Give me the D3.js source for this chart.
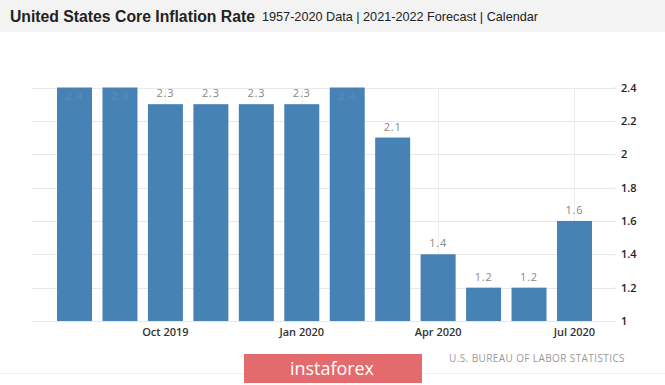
<!DOCTYPE html>
<html>
<head>
<meta charset="utf-8">
<script src="https://cdn.jsdelivr.net/npm/d3@7"></script>
<style>
  html, body { margin: 0; padding: 0; background: #fff; }
  svg { display: block; }
</style>
</head>
<body>
<div id="chart"></div>
<script>
(function () {
  'use strict';

  /* ── Data ── */
  var months = ['Aug 2019', 'Sep 2019', 'Oct 2019', 'Nov 2019', 'Dec 2019', 'Jan 2020',
                'Feb 2020', 'Mar 2020', 'Apr 2020', 'May 2020', 'Jun 2020', 'Jul 2020'];
  var values = [2.4, 2.4, 2.3, 2.3, 2.3, 2.3, 2.4, 2.1, 1.4, 1.2, 1.2, 1.6];
  var xTicks = ['Oct 2019', 'Jan 2020', 'Apr 2020', 'Jul 2020'];
  var yTicks = [1, 1.2, 1.4, 1.6, 1.8, 2, 2.2, 2.4];

  var W = 665, H = 385;
  var left = 32, right = 612, top = 87.5, bottom = 321;

  var svg = d3.select('#chart').append('svg')
    .attr('width', W).attr('height', H);

  /* ── Header band ── */
  svg.append('rect')
    .attr('x', 0).attr('y', 0).attr('width', W).attr('height', 32)
    .attr('fill', '#f3f3f3');

  svg.append('text')
    .attr('x', 10).attr('y', 22)
    .attr('font-family', 'Liberation Sans, Arial, sans-serif')
    .attr('font-weight', 'bold')
    .attr('font-size', 16)
    .attr('fill', '#222')
    .attr('textLength', 245)
    .attr('lengthAdjust', 'spacingAndGlyphs')
    .text('United States Core Inflation Rate');

  svg.append('text')
    .attr('x', 262).attr('y', 21)
    .attr('font-family', 'Liberation Sans, Arial, sans-serif')
    .attr('font-size', 13)
    .attr('fill', '#222')
    .attr('textLength', 276)
    .attr('lengthAdjust', 'spacingAndGlyphs')
    .text('1957-2020 Data | 2021-2022 Forecast | Calendar');

  /* ── Scales ── */
  var x = d3.scaleBand()
    .domain(months)
    .range([51.8, 597.2])
    .paddingInner(0.23)
    .paddingOuter(0.115);

  var y = d3.scaleLinear()
    .domain([1, 2.4])
    .range([bottom, top]);

  /* ── Grid ── */
  var grid = svg.append('g');
  grid.selectAll('line.h')
    .data(yTicks)
    .join('line')
    .attr('class', 'h')
    .attr('x1', left).attr('x2', right + 3)
    .attr('y1', function (d) { return Math.round(y(d)) + 0.5; })
    .attr('y2', function (d) { return Math.round(y(d)) + 0.5; })
    .attr('stroke', '#e8e8e8');

  grid.selectAll('line.v')
    .data(xTicks)
    .join('line')
    .attr('class', 'v')
    .attr('x1', function (d) { return Math.round(x(d) + x.bandwidth() / 2) + 0.5; })
    .attr('x2', function (d) { return Math.round(x(d) + x.bandwidth() / 2) + 0.5; })
    .attr('y1', top).attr('y2', bottom)
    .attr('stroke', '#eeeeee');

  /* ── Bars ── */
  svg.append('g')
    .selectAll('rect')
    .data(values)
    .join('rect')
    .attr('x', function (d, i) { return x(months[i]); })
    .attr('width', x.bandwidth())
    .attr('y', function (d) { return y(d); })
    .attr('height', function (d) { return bottom - y(d); })
    .attr('fill', '#4682b4');

  /* ── Value labels ── */
  svg.append('g')
    .selectAll('text')
    .data(values)
    .join('text')
    .attr('x', function (d, i) { return x(months[i]) + x.bandwidth() / 2; })
    .attr('y', function (d) { return d >= 2.4 ? y(d) + 12 : y(d) - 7; })
    .attr('text-anchor', 'middle')
    .attr('font-family', 'Open Sans, sans-serif')
    .attr('font-size', 11)
    .attr('letter-spacing', 0.8)
    .attr('fill', function (d) { return d >= 2.4 ? '#6389b3' : '#888'; })
    .text(function (d) { return d.toFixed(1); });

  /* ── X axis (labels only) ── */
  var xAxis = d3.axisBottom(x).tickValues(xTicks).tickSize(0).tickPadding(7);
  var gx = svg.append('g')
    .attr('transform', 'translate(0,' + bottom + ')')
    .call(xAxis);
  gx.select('.domain').remove();
  gx.selectAll('text')
    .attr('font-family', 'Open Sans, sans-serif')
    .attr('font-size', 11)
    .attr('font-weight', 600)
    .attr('fill', '#333');

  /* ── Y axis on the right ── */
  var yAxis = d3.axisRight(y).tickValues(yTicks).tickSize(4).tickPadding(5)
    .tickFormat(d3.format('~g'));
  var gy = svg.append('g')
    .attr('transform', 'translate(' + right + ',0)')
    .call(yAxis);
  gy.select('.domain').remove();
  gy.selectAll('line').attr('stroke', '#e8e8e8');
  gy.selectAll('text')
    .attr('font-family', 'Open Sans, sans-serif')
    .attr('font-size', 11)
    .attr('font-weight', 600)
    .attr('fill', '#222');

  /* ── Footer ── */
  svg.append('line')
    .attr('x1', 0).attr('x2', W)
    .attr('y1', 373.5).attr('y2', 373.5)
    .attr('stroke', '#f0f0f0');

  svg.append('text')
    .attr('x', 625).attr('y', 362)
    .attr('text-anchor', 'end')
    .attr('font-family', 'Open Sans, sans-serif')
    .attr('font-size', 10)
    .attr('letter-spacing', 0.4)
    .attr('fill', '#999')
    .text('U.S. BUREAU OF LABOR STATISTICS');

  svg.append('rect')
    .attr('x', 244).attr('y', 354).attr('width', 178).attr('height', 29)
    .attr('fill', '#e46b6d');

  svg.append('text')
    .attr('x', 290).attr('y', 375)
    .attr('font-family', 'Open Sans, sans-serif')
    .attr('font-size', 19)
    .attr('fill', '#fff')
    .attr('textLength', 84)
    .attr('lengthAdjust', 'spacingAndGlyphs')
    .text('instaforex');

})();
</script>
</body>
</html>
